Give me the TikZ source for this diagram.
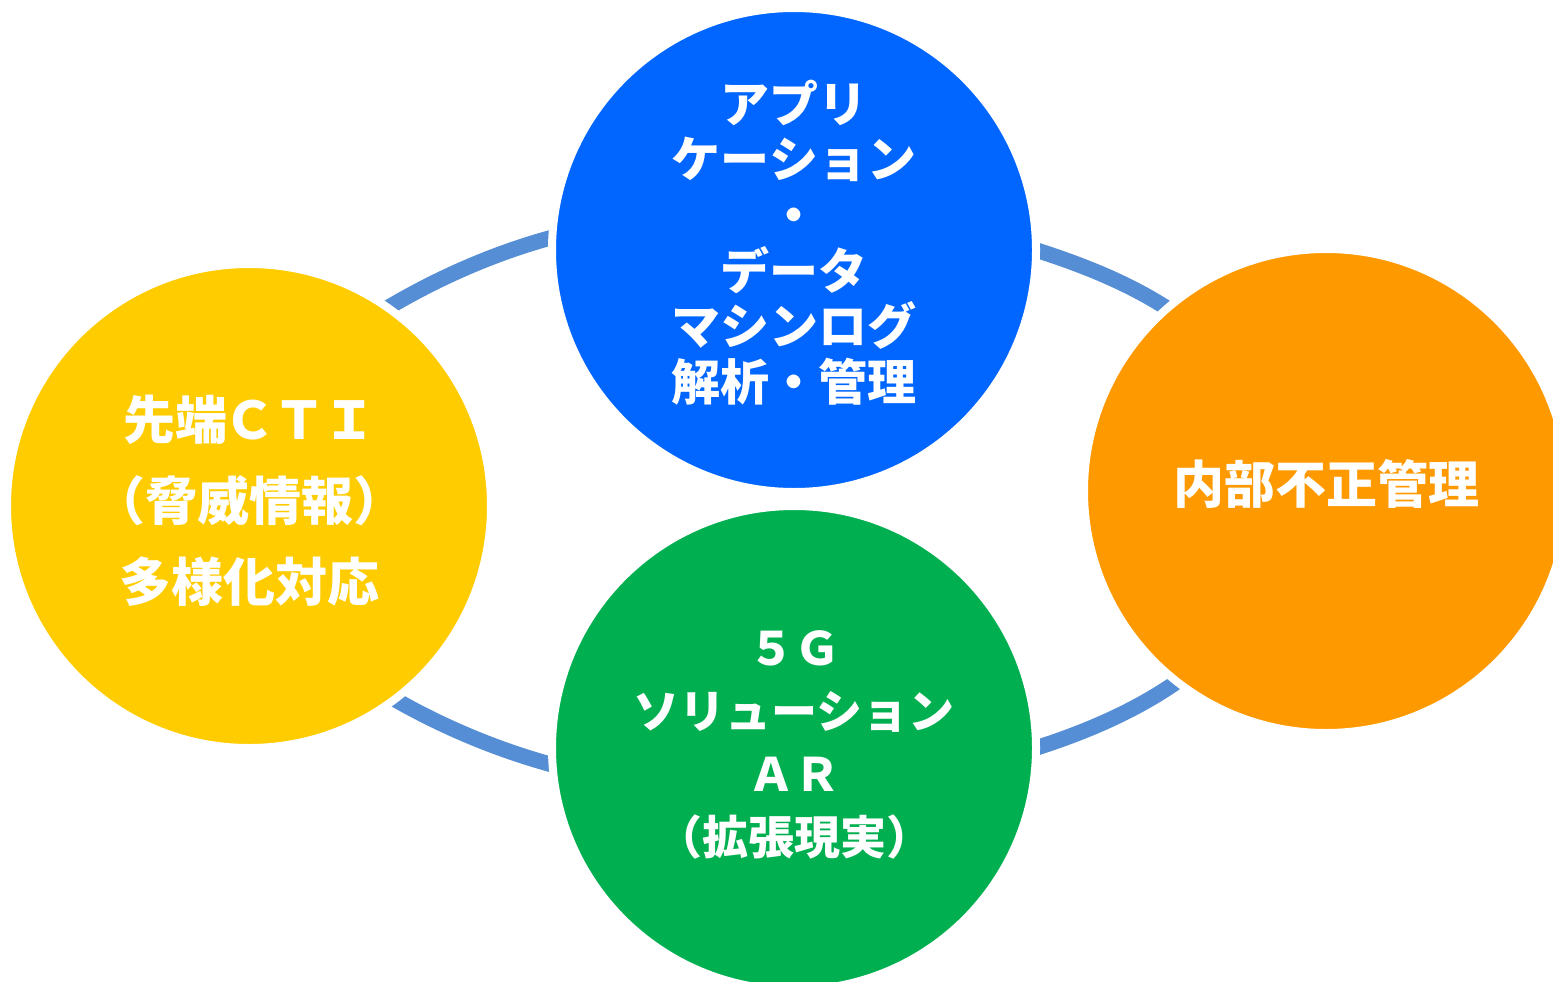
\documentclass[tikz,border=0pt]{standalone}
\usepackage{fontspec}
\setmainfont{Noto Sans CJK JP}
\usetikzlibrary{backgrounds,topaths}
\definecolor{cblue}{HTML}{0066FF}
\definecolor{cyellow}{HTML}{FFCC00}
\definecolor{corange}{HTML}{FF9900}
\definecolor{cgreen}{HTML}{00B050}
\definecolor{ringblue}{HTML}{558ED5}
\newcommand\lowstrut[1]{\rule[-#1]{0pt}{1pt}}
\begin{document}
\begin{tikzpicture}[x=1pt,y=-1pt,
  bubble/.style={circle, minimum size=484pt, inner sep=0pt, outer sep=0pt,
    draw=white, line width=8pt, text=white, align=center},
  ring/.style={draw=ringblue, line width=15.5pt, looseness=0.85}]
\useasboundingbox (0,0) rectangle (1553,982);
\clip (0,0) rectangle (1553,982);
\node[bubble, fill=cblue, font=\bfseries\fontsize{49}{55.6}\selectfont] (B) at (794,250)
  {アプリ\\ケーション\\・\\データ\\マシンログ\\解析・管理\lowstrut{20pt}};
\node[bubble, fill=cyellow, font=\bfseries\fontsize{52}{81}\selectfont] (Y) at (249,506)
  {先端\kern-4ptＣ\kern-2ptＴ\kern-2ptＩ\\（脅威情報）\\多様化対応\lowstrut{16pt}};
\node[bubble, fill=corange, font=\bfseries\fontsize{51}{60}\selectfont] (O) at (1326,491)
  {内部不正管理\lowstrut{20pt}};
\node[bubble, fill=cgreen, font=\bfseries\fontsize{46}{63}\selectfont] (G) at (794,748)
  {５Ｇ\\ソリューション\\ＡＲ\\（拡張現実）\lowstrut{11pt}};
\begin{scope}[on background layer]
  \draw[ring] (Y.55.5) to[out=30.7, in=195.2] (B.177);
  \draw[ring] (B.-0.4) to[out=-17.7, in=147.2] (O.131.8);
  \draw[ring] (Y.-53.5) to[out=-29.8, in=164.7] (G.184.2);
  \draw[ring] (G.-0.9) to[out=17.8, in=215] (O.232.5);
\end{scope}
\end{tikzpicture}
\end{document}
